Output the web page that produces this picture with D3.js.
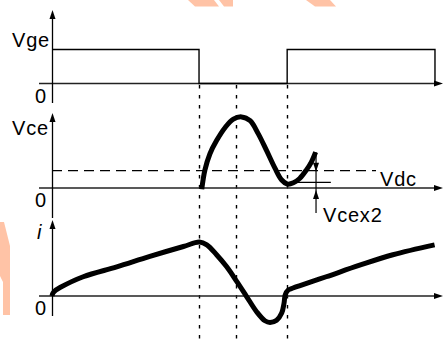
<!DOCTYPE html>
<head>
<script src="https://d3js.org/d3.v7.min.js"></script>
<style>
  body { margin: 0; background: #fff; }
  text { font-family: "Liberation Sans", Arial, sans-serif; font-size: 20px; fill: #000; letter-spacing: 0.8px; }
</style>
</head>
<body>
<svg width="443" height="345"></svg>
<script>
// time in arbitrary units 0..100
var switchTimes = [37.7, 47.4, 60.3];

// gate voltage (1 = on)
var vgeT = [0, 37.7, 60.3, 98.2];
var vgeV = [1, 0, 1, 0];

// collector-emitter voltage, in units of Vdc
var vdc = 1;
var vceT = [38.4, 39.2, 40.5, 42.2, 44.4, 46.5, 48.6, 50.8, 52.9, 55.0, 57.2, 58.9, 60.3, 61.9, 63.5, 65.2, 66.5, 67.6];
var vceV = [-0.07, 1.03, 1.98, 2.74, 3.50, 3.98, 4.11, 3.89, 3.13, 2.17, 1.13, 0.46, 0.23, 0.30, 0.55, 1.03, 1.50, 2.07];
var vcex2T = 67.7;
var vcex2Level = 0.33;

// current
var curT = [0, 0.26, 1.0, 2.05, 8.0, 16.6, 25.1, 33.7, 37.8, 39.7, 42.2, 44.8, 47.4, 49.9, 52.5, 54.6, 55.9, 57.6, 58.9, 59.5, 59.8, 60.6, 61.8, 63.6, 70.3, 78.9, 87.4, 98.1];
var curV = [0, 0.055, 0.11, 0.155, 0.35, 0.53, 0.72, 0.90, 0.98, 0.93, 0.75, 0.53, 0.26, -0.01, -0.29, -0.45, -0.48, -0.44, -0.31, -0.13, 0.02, 0.11, 0.145, 0.19, 0.35, 0.56, 0.75, 0.93];

var svg = d3.select("svg");

var x = d3.scaleLinear().domain([0, 100]).range([52, 442]);

var panels = [
  { name: "Vge", italic: false, y: d3.scaleLinear().domain([0, 1]).range([83.5, 49.5]), top: 10, bottom: 103, labelY: 47 },
  { name: "Vce", italic: false, y: d3.scaleLinear().domain([0, 1]).range([188, 170.7]), top: 113, bottom: 218, labelY: 135 },
  { name: "i", italic: true, y: d3.scaleLinear().domain([0, 1]).range([296, 241]), top: 220, bottom: 316, labelY: 239 }
];

// faint watermark pieces
var wm = svg.append("g").attr("fill", "#ffc3a6");
wm.append("path").attr("d", "M188,0 L214,0 L219,6.5 L195,6.5 Z");
wm.append("path").attr("d", "M219,0 L233,0 L233,6.5 L224,6.5 Z");
wm.append("path").attr("d", "M306,0 L330,0 L336,6.5 L315,6.5 Z");
wm.append("path").attr("d", "M0,222 L4,222 L10,246 L10,315 L3,315 L3,282 L0,276 Z");

function arrow(g, tx, ty, dir) {
  var L = 9, w = 3;
  var p;
  if (dir == "up") p = [[tx, ty], [tx - w, ty + L], [tx + w, ty + L]];
  if (dir == "down") p = [[tx, ty], [tx - w, ty - L], [tx + w, ty - L]];
  if (dir == "right") p = [[tx, ty], [tx - L, ty - w], [tx - L, ty + w]];
  g.append("path").attr("d", "M" + p.join("L") + "Z").attr("fill", "#000");
}

function snap(v) { return Math.floor(v) + 0.5; }

// dashed switching markers
svg.append("g").selectAll("line")
  .data(switchTimes)
  .enter().append("line")
  .attr("x1", function(d) { return snap(x(d)); })
  .attr("x2", function(d) { return snap(x(d)); })
  .attr("y1", 85).attr("y2", 345)
  .attr("stroke", "#000").attr("stroke-width", 1.4)
  .attr("stroke-dasharray", "3.5 6.5");

panels.forEach(function(p) {
  var g = svg.append("g");
  var y0 = p.y(0);
  g.append("line")
    .attr("x1", 39).attr("x2", 436).attr("y1", y0).attr("y2", y0)
    .attr("stroke", "#222").attr("stroke-width", 1.4);
  arrow(g, 443, y0, "right");
  g.append("line")
    .attr("x1", snap(x(0))).attr("x2", snap(x(0))).attr("y1", p.top + 6).attr("y2", p.bottom)
    .attr("stroke", "#000").attr("stroke-width", 1.3);
  arrow(g, snap(x(0)), p.top, "up");
  g.append("text")
    .attr("x", p.italic ? 37 : 12).attr("y", p.labelY)
    .attr("font-style", p.italic ? "italic" : null)
    .text(p.name);
  g.append("text")
    .attr("x", 47).attr("y", y0 + 19)
    .attr("text-anchor", "end")
    .text("0");
});

// Vge pulse
var vgeLine = d3.line()
  .x(function(d) { return x(d[0]); })
  .y(function(d) { return panels[0].y(d[1]); })
  .curve(d3.curveStepAfter);
svg.append("path")
  .datum(d3.zip(vgeT, vgeV))
  .attr("d", vgeLine)
  .attr("fill", "none").attr("stroke", "#000").attr("stroke-width", 1.4);

// Vdc dashed level
var yV = panels[1].y;
svg.append("line")
  .attr("x1", x(0)).attr("x2", 376)
  .attr("y1", yV(vdc)).attr("y2", yV(vdc))
  .attr("stroke", "#000").attr("stroke-width", 1.3)
  .attr("stroke-dasharray", "10 6");
svg.append("text").attr("x", 380).attr("y", 186).text("Vdc");

// Vce curve
var vceLine = d3.line()
  .x(function(d) { return x(d[0]); })
  .y(function(d) { return yV(d[1]); })
  .curve(d3.curveCatmullRom);
svg.append("path")
  .datum(d3.zip(vceT, vceV))
  .attr("d", vceLine)
  .attr("fill", "none").attr("stroke", "#000").attr("stroke-width", 5)
  .attr("stroke-linejoin", "round");

// Vcex2 annotation
var ann = svg.append("g");
var ax = x(vcex2T);
ann.append("line")
  .attr("x1", ax).attr("x2", ax).attr("y1", yV(vceV[vceV.length - 1])).attr("y2", 213)
  .attr("stroke", "#000").attr("stroke-width", 1.2);
arrow(ann, ax, yV(vdc) + 1, "down");
arrow(ann, ax, yV(0) + 2, "up");
ann.append("line")
  .attr("x1", x(61.8)).attr("x2", x(71.5))
  .attr("y1", yV(vcex2Level)).attr("y2", yV(vcex2Level))
  .attr("stroke", "#000").attr("stroke-width", 1.2);
ann.append("text").attr("x", 323).attr("y", 222).text("Vcex2");

// current curve
var yI = panels[2].y;
var curLine = d3.line()
  .x(function(d) { return x(d[0]); })
  .y(function(d) { return yI(d[1]); })
  .curve(d3.curveCatmullRom);
svg.append("path")
  .datum(d3.zip(curT, curV))
  .attr("d", curLine)
  .attr("fill", "none").attr("stroke", "#000").attr("stroke-width", 5)
  .attr("stroke-linejoin", "round");
</script>
</body>
